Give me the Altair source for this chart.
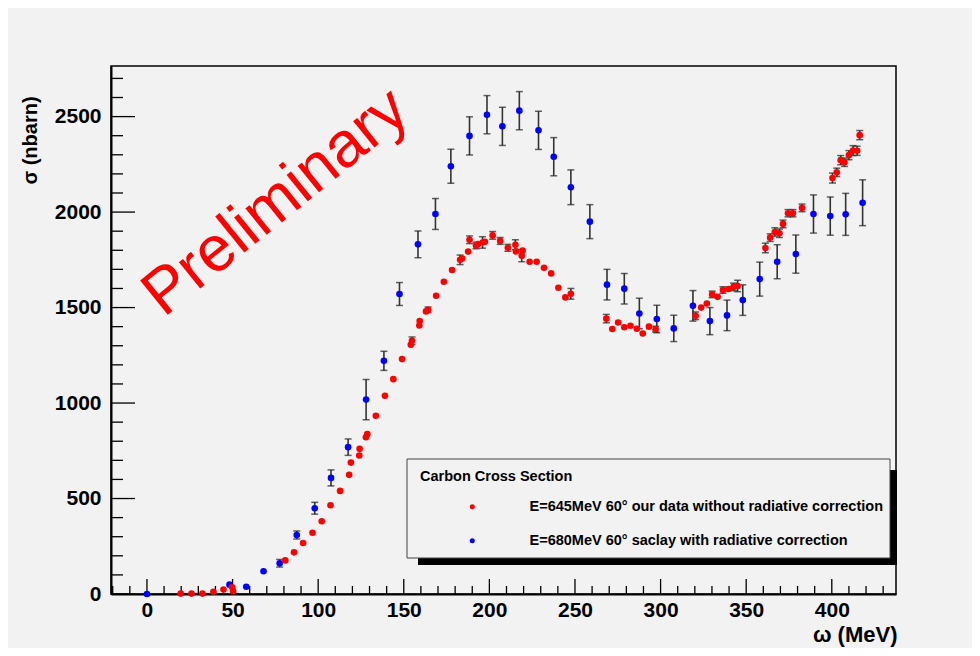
import altair as alt
import pandas as pd

RED_LABEL = "E=645MeV 60° our data without radiative correction"
BLUE_LABEL = "E=680MeV 60° saclay with radiative correction"

# ---- our data (red) ----
red_x = [19.7, 26.0, 32.4, 38.8, 44.7, 49.8, 50.3,
         80.8, 85.9, 91.2, 96.7, 102.1, 107.2, 112.8, 118.1, 119.1, 124.0,
         124.2, 127.9, 128.7, 133.7, 139.0, 143.9, 149.0, 154.1, 154.8, 159.1,
         159.3, 163.0, 164.2, 168.9, 173.4, 178.2, 182.9, 184.1, 187.6, 188.4,
         192.2, 193.3, 196.0, 197.4, 201.9, 206.3, 210.8, 215.2, 215.5, 219.4,
         218.9, 223.5, 227.6, 231.9, 236.1, 240.3, 244.4, 247.6, 268.3, 271.8,
         275.2, 278.8, 282.4, 286.1, 289.6, 293.2, 297.1, 320.5, 323.7, 327.0,
         330.1, 333.3, 336.4, 339.7, 342.6, 345.0, 361.2, 364.0, 366.7, 369.4,
         371.5, 374.4, 377.3, 382.6, 400.4, 402.9, 405.2, 407.4, 410.0, 412.4,
         414.8, 416.3]
red_y = [2, 2, 2, 12, 23, 35, 15,
         176, 218, 267, 321, 381, 465, 540, 624, 688, 725,
         760, 821, 837, 933, 1038, 1125, 1230, 1305, 1326, 1406,
         1429, 1480, 1488, 1562, 1635, 1697, 1750, 1757, 1793, 1855,
         1825, 1833, 1841, 1844, 1878, 1849, 1813, 1829, 1794, 1798,
         1771, 1740, 1740, 1708, 1679, 1604, 1553, 1572, 1442, 1388,
         1422, 1397, 1405, 1389, 1364, 1400, 1387, 1457, 1500, 1521,
         1569, 1556, 1592, 1597, 1608, 1613, 1812, 1866, 1896, 1889,
         1938, 1994, 1994, 2022, 2178, 2208, 2272, 2261, 2298, 2322,
         2321, 2403]
red_err = [0, 0, 0, 0, 0, 0, 0,
           0, 0, 0, 0, 0, 0, 0, 0, 0, 0,
           0, 0, 0, 0, 0, 0, 0, 0, 20, 0,
           0, 0, 15, 0, 0, 0, 25, 0, 0, 20,
           17, 0, 30, 0, 20, 18, 18, 26, 0, 0,
           31, 0, 0, 0, 0, 0, 0, 28, 22, 0,
           0, 0, 0, 0, 0, 0, 15, 20, 0, 0,
           17, 0, 17, 0, 20, 30, 25, 20, 22, 22,
           20, 19, 19, 20, 26, 22, 24, 22, 24, 26,
           24, 24]

# ---- saclay (blue) ----
blue_x = [0.0, 48.2, 58.0, 68.1, 77.5, 87.5, 98.0, 107.5, 117.5, 128.0,
          138.4, 147.5, 158.3, 168.5, 177.5, 188.4, 198.6, 207.6, 217.5, 228.7,
          237.6, 247.6, 258.7, 268.7, 278.8, 287.6, 297.8, 307.7, 318.9, 328.8,
          338.8, 348.0, 357.9, 368.1, 379.0, 389.3, 399.1, 408.1, 418.0]
blue_y = [0, 49, 38, 119, 161, 309, 449, 608, 769, 1018,
          1221, 1571, 1831, 1990, 2240, 2399, 2510, 2449, 2531, 2428,
          2290, 2130, 1950, 1620, 1599, 1469, 1440, 1391, 1509, 1429,
          1459, 1539, 1649, 1740, 1780, 1990, 1979, 1988, 2049]
blue_err = [0, 0, 0, 0, 20, 21, 31, 42, 43, 105,
            50, 60, 70, 81, 89, 100, 100, 100, 100, 100,
            100, 91, 89, 80, 80, 80, 72, 69, 80, 71,
            80, 80, 89, 89, 100, 100, 100, 110, 120]

x_major = [0, 50, 100, 150, 200, 250, 300, 350, 400]
x_minor = [v for v in range(-20, 440, 10) if v % 50 != 0]
y_major = [0, 500, 1000, 1500, 2000, 2500]
y_minor = [v for v in range(100, 2800, 100) if v % 500 != 0]

prelim_x = [75.4]
prelim_y = [2050]

FONT = "Liberation Sans"
W, H = 785, 528

df = pd.concat([
    pd.DataFrame({"omega": blue_x, "sigma": blue_y, "err": blue_err, "series": BLUE_LABEL}),
    pd.DataFrame({"omega": red_x, "sigma": red_y, "err": red_err, "series": RED_LABEL}),
], ignore_index=True)
df["lo"] = df["sigma"] - df["err"]
df["hi"] = df["sigma"] + df["err"]
err_df = df[df["err"] > 0]
caps = pd.concat([
    pd.DataFrame({"omega": err_df["omega"], "sigma": err_df["lo"]}),
    pd.DataFrame({"omega": err_df["omega"], "sigma": err_df["hi"]}),
], ignore_index=True)

xs = alt.Scale(domain=[-21, 437.5], nice=False, zero=False)
ys = alt.Scale(domain=[0, 2765], nice=False, zero=False)

x_axis = alt.Axis(values=x_major, format="d", tickSize=0, grid=False,
                  domainColor="black", domainWidth=2,
                  labelFont=FONT, labelFontWeight="bold", labelFontSize=21,
                  labelColor="black", labelPadding=5,
                  title="ω (MeV)", titleFont=FONT, titleFontWeight="bold",
                  titleFontSize=22, titleColor="black",
                  titleX=786, titleY=40, titleAlign="right", titleBaseline="middle")
y_axis = alt.Axis(values=y_major, format="d", tickSize=0, grid=False,
                  domainColor="black", domainWidth=2,
                  labelFont=FONT, labelFontWeight="bold", labelFontSize=21,
                  labelColor="black", labelPadding=10,
                  title="σ (nbarn)", titleFont=FONT, titleFontWeight="bold",
                  titleFontSize=20, titleColor="black", titleAngle=270,
                  titleX=-81, titleY=74, titleAlign="center", titleBaseline="middle")

one = pd.DataFrame({"k": [0]})
shadow = alt.Chart(one).mark_rect(color="black").encode(
    x=alt.value(307), x2=alt.value(786), y=alt.value(404), y2=alt.value(499))
box = alt.Chart(one).mark_rect(fill="#f2f2f2", stroke="#444444", strokeWidth=1).encode(
    x=alt.value(296), x2=alt.value(779), y=alt.value(393), y2=alt.value(492))

xmaj = alt.Chart(pd.DataFrame({"omega": x_major})).mark_rule(color="black", strokeWidth=1.3).encode(
    x=alt.X("omega:Q", scale=xs, axis=x_axis), y=alt.value(H), y2=alt.value(H - 15))
xmin = alt.Chart(pd.DataFrame({"omega": x_minor})).mark_rule(color="black", strokeWidth=1.3).encode(
    x=alt.X("omega:Q", scale=xs), y=alt.value(H), y2=alt.value(H - 8))
ymaj = alt.Chart(pd.DataFrame({"sigma": y_major})).mark_rule(color="black", strokeWidth=1.3).encode(
    y=alt.Y("sigma:Q", scale=ys, axis=y_axis), x=alt.value(0), x2=alt.value(24))
ymin = alt.Chart(pd.DataFrame({"sigma": y_minor})).mark_rule(color="black", strokeWidth=1.3).encode(
    y=alt.Y("sigma:Q", scale=ys), x=alt.value(0), x2=alt.value(12))

prelim = alt.Chart(pd.DataFrame({"omega": prelim_x, "sigma": prelim_y, "t": ["Preliminary"]})).mark_text(
    angle=321, font=FONT, fontSize=64, color="#ff0000", align="center", baseline="middle").encode(
    x=alt.X("omega:Q", scale=xs), y=alt.Y("sigma:Q", scale=ys), text="t:N")

err_rules = alt.Chart(err_df).mark_rule(color="#333333", strokeWidth=1.6).encode(
    x=alt.X("omega:Q", scale=xs), y=alt.Y("lo:Q", scale=ys), y2="hi:Q")
err_caps = alt.Chart(caps).mark_tick(orient="horizontal", color="#222222", size=7, thickness=1.5).encode(
    x=alt.X("omega:Q", scale=xs), y=alt.Y("sigma:Q", scale=ys))

points = alt.Chart(df).mark_circle(size=44, opacity=1).encode(
    x=alt.X("omega:Q", scale=xs),
    y=alt.Y("sigma:Q", scale=ys),
    color=alt.Color("series:N",
                    scale=alt.Scale(domain=[RED_LABEL, BLUE_LABEL], range=["#ff0000", "#0000ff"]),
                    legend=alt.Legend(title="Carbon Cross Section", orient="none",
                                      legendX=309, legendY=404, padding=0,
                                      symbolType="circle", symbolSize=25, symbolStrokeWidth=0,
                                      symbolOffset=45, labelOffset=50, rowPadding=19,
                                      titlePadding=15, labelFont=FONT, labelFontSize=14.5,
                                      labelFontWeight="bold", labelColor="black", labelLimit=700,
                                      titleFont=FONT, titleFontSize=14.5, titleFontWeight="bold",
                                      titleColor="black")),
)

chart = alt.layer(
    shadow, box, xmaj, xmin, ymaj, ymin, prelim, err_rules, err_caps, points
).properties(
    width=W, height=H,
    autosize=alt.AutoSizeParams(type="none"),
    padding={"left": 103, "top": 58, "right": 76, "bottom": 54},
    background="#f2f2f2",
).configure_view(stroke="black", strokeWidth=1.5)

chart.save("out.html", embed_options={"renderer": "svg", "actions": False})
